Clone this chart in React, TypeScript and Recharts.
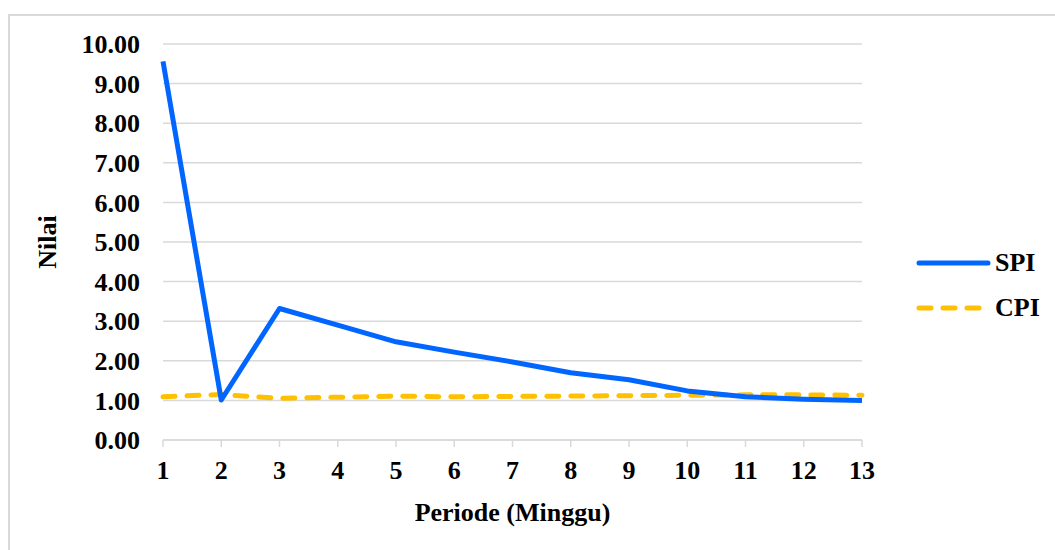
import { LineChart, Line, XAxis, YAxis, CartesianGrid } from "recharts";

// ── data ──────────────────────────────────────────────────────────────────────
const periods = ["1", "2", "3", "4", "5", "6", "7", "8", "9", "10", "11", "12", "13"];
const spi = [9.56, 1.01, 3.32, 2.9, 2.48, 2.22, 1.97, 1.7, 1.52, 1.24, 1.09, 1.03, 1.0];
const cpi = [1.09, 1.15, 1.05, 1.08, 1.11, 1.09, 1.1, 1.11, 1.12, 1.13, 1.14, 1.14, 1.13];
const yTicks = [0, 1, 2, 3, 4, 5, 6, 7, 8, 9, 10];
const seriesNames = ["SPI", "CPI"];

const data = periods.map((p, i) => ({ periode: p, SPI: spi[i], CPI: cpi[i] }));

const FONT = '"Liberation Serif", "Times New Roman", serif';
const GRID = "#d9d9d9";
const BLUE = "#0066ff";
const GOLD = "#ffc000";
const DASH = "12 12";

const tickStyle = { fontFamily: FONT, fontWeight: 700, fontSize: 26, fill: "#000" };

// ── axis titles ───────────────────────────────────────────────────────────────
function YTitle(props: any) {
  const vb = props.viewBox || {};
  const cy = (vb.y ?? 0) + (vb.height ?? 0) / 2;
  return (
    <text x={47} y={cy} transform={`rotate(-90 47 ${cy})`} textAnchor="middle"
      dominantBaseline="central" style={tickStyle}>
      Nilai
    </text>
  );
}

function XTitle(props: any) {
  const vb = props.viewBox || {};
  const cx = (vb.x ?? 0) + (vb.width ?? 0) / 2;
  return (
    <text x={cx} y={512} textAnchor="middle" dominantBaseline="central" style={tickStyle}>
      Periode (Minggu)
    </text>
  );
}

// ── legend (drawn outside the plot so it doesn't eat chart margin) ───────────
function ChartLegend() {
  const styles = [
    { color: BLUE, dash: undefined as string | undefined },
    { color: GOLD, dash: DASH },
  ];
  return (
    <div style={{ position: "absolute", left: 912, top: 249, display: "flex", flexDirection: "column", gap: 17 }}>
      {seriesNames.map((name, i) => (
        <div key={name} style={{ display: "flex", alignItems: "center", height: 28 }}>
          <svg width={80} height={10} style={{ display: "block" }}>
            <line x1={7} y1={5} x2={76} y2={5} stroke={styles[i].color} strokeWidth={5}
              strokeLinecap="round" strokeDasharray={styles[i].dash} />
          </svg>
          <span style={{ fontFamily: FONT, fontWeight: 700, fontSize: 26, color: "#000",
            marginLeft: 3, lineHeight: "28px" }}>
            {name}
          </span>
        </div>
      ))}
    </div>
  );
}

// ── main ──────────────────────────────────────────────────────────────────────
export default function App() {
  return (
    <div style={{ position: "absolute", left: 0, top: 0, width: 1055, height: 550, background: "#fff", overflow: "hidden" }}>
      <div style={{ position: "absolute", left: 8, top: 14, width: 1100, height: 600,
        borderLeft: `2px solid ${GRID}`, borderTop: `2px solid ${GRID}` }} />
      <div style={{ position: "absolute", left: 0, top: 0 }}>
        <LineChart width={1055} height={550} data={data}
          margin={{ top: 44, right: 193, bottom: 50, left: 0 }}>
          <CartesianGrid vertical={false} stroke={GRID} strokeWidth={1.5} />
          <XAxis dataKey="periode" interval={0} height={60}
            axisLine={{ stroke: GRID, strokeWidth: 1.5 }}
            tickLine={{ stroke: GRID, strokeWidth: 1.5 }}
            tickSize={7} tickMargin={14} tick={tickStyle}
            label={<XTitle />} />
          <YAxis domain={[0, 10]} ticks={yTicks} width={163} interval={0}
            axisLine={false} tickLine={false} tickSize={0} tickMargin={23}
            tick={tickStyle} tickFormatter={(v: number) => v.toFixed(2)}
            label={<YTitle />} />
          <Line type="linear" dataKey="CPI" stroke={GOLD} strokeWidth={5}
            strokeDasharray={DASH} strokeLinecap="round" dot={false}
            isAnimationActive={false} />
          <Line type="linear" dataKey="SPI" stroke={BLUE} strokeWidth={5}
            strokeLinejoin="round" dot={false} isAnimationActive={false} />
        </LineChart>
      </div>
      <ChartLegend />
    </div>
  );
}
